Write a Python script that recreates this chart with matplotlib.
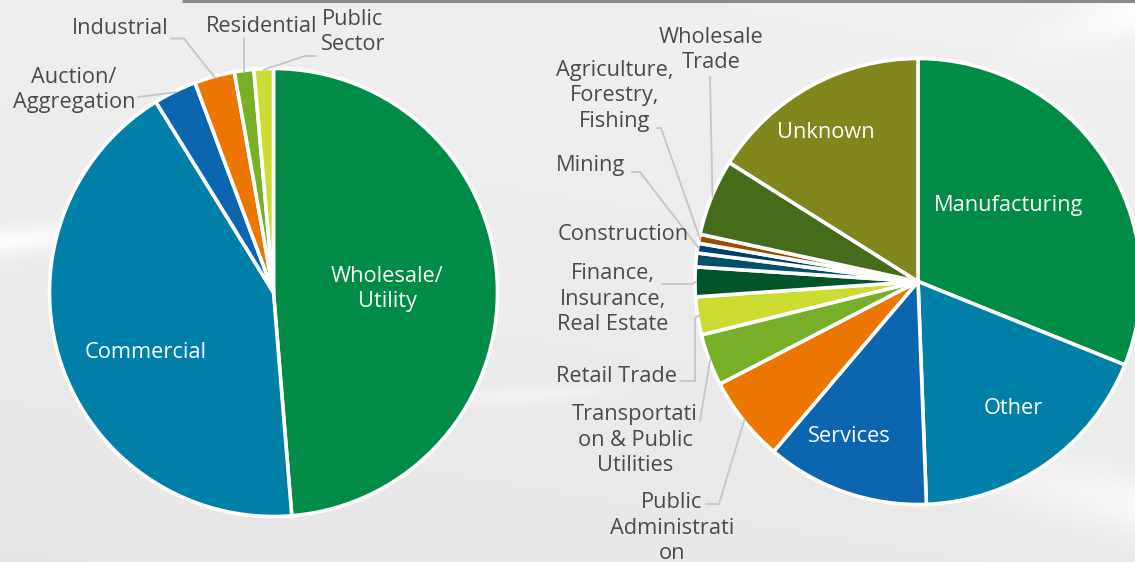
import numpy as np
import matplotlib
matplotlib.use("Agg")
import matplotlib.pyplot as plt

W, H = 1135, 562

# ---- customer type (left pie) ----
cust_labels = ["Wholesale/\nUtility", "Commercial", "Auction/\nAggregation",
               "Industrial", "Residential", "Public\nSector"]
cust_share = [48.7, 42.5, 3.1, 2.9, 1.4, 1.4]
cust_colors = ["#008c46", "#007fa8", "#0b65af", "#ec7600", "#77af28", "#cddc32"]

# ---- buyer industry (right pie) ----
ind_labels = ["Manufacturing", "Other", "Services", "Public\nAdministrati\non",
              "Transportati\non & Public\nUtilities", "Retail Trade",
              "Finance,\nInsurance,\nReal Estate", "Construction", "Mining",
              "Agriculture,\nForestry,\nFishing", "Wholesale\nTrade", "Unknown"]
ind_share = [31.1, 18.3, 11.8, 6.2, 3.75, 2.75, 2.15, 1.0, 0.7, 0.65, 5.55, 16.05]
ind_colors = ["#008c46", "#007fa8", "#0b65af", "#ec7600", "#77af28", "#cddc32",
              "#00552b", "#005069", "#003d6f", "#9a4b00", "#466b1a", "#80861c"]

TEXT = "#4a4a4a"
LEAD = "#c6c6c6"
FONT = "Open Sans"


def px(x, y):
    """Pixel position (origin top-left) -> data coordinates."""
    return x, H - y


fig = plt.figure(figsize=(W / 100, H / 100), dpi=100)
ax = fig.add_axes([0, 0, 1, 1])

# soft grey backdrop with a few white light streaks
yy, xx = np.mgrid[0:H, 0:W].astype(float)
bg = 0.905 + 0.030 * (1 - yy / H) + 0.01 * (xx / W)


def streak(x0, y0, slope, width, strength, fade_x=None):
    d = np.abs((yy - y0) - slope * (xx - x0)) / np.sqrt(1 + slope ** 2)
    s = strength * np.exp(-(d / width) ** 2)
    if fade_x is not None:
        s *= np.clip(1 - np.abs(xx - x0) / fade_x, 0, 1)
    return s


bg += streak(0, 242, -0.12, 14, 0.07, fade_x=260)
bg += streak(520, 395, -0.05, 8, 0.04, fade_x=120)
bg += streak(1135, 505, 0.25, 30, 0.06, fade_x=260)
bg += streak(1135, 10, -0.3, 25, 0.05, fade_x=140)
bg = np.clip(bg, 0, 1)
ax.imshow(np.dstack([bg, bg, bg]), extent=(0, W, 0, H), origin="upper",
          zorder=0, aspect="auto", interpolation="bilinear")

# thin rule along the top edge
ax.plot([182, W], [H - 1.2, H - 1.2], color="#8a8a8a", lw=2.2,
        solid_capstyle="butt", zorder=1)

wedge_style = dict(edgecolor="white", linewidth=2.6)

L_CENTER, L_R = px(273.5, 292.5), 224
R_CENTER, R_R = px(918, 281.5), 223

lw, _ = ax.pie(cust_share, colors=cust_colors, startangle=90, counterclock=False,
               center=L_CENTER, radius=L_R, wedgeprops=wedge_style, frame=True)
rw, _ = ax.pie(ind_share, colors=ind_colors, startangle=90, counterclock=False,
               center=R_CENTER, radius=R_R, wedgeprops=wedge_style, frame=True)
for w in list(lw) + list(rw):
    w.set_zorder(2)


def rim(wedge, center, r):
    a = np.deg2rad((wedge.theta1 + wedge.theta2) / 2)
    return center[0] + r * np.cos(a), center[1] + r * np.sin(a)


txt = dict(family=FONT, fontweight="normal", fontsize=15.7, linespacing=1.3,
           ha="center", va="center", zorder=4)

# labels placed inside the larger slices
inside = {
    "Wholesale/\nUtility": (387, 289),
    "Commercial": (146, 352),
    "Manufacturing": (1009, 206),
    "Other": (1013, 408),
    "Services": (849, 437),
    "Unknown": (826, 132),
}
for name, pos in inside.items():
    ax.text(*px(*pos), name, color="white", **txt)

# outside labels with leader lines running to the middle of each slice's rim
left_out = {
    2: ((74, 90), [(138, 97)]),
    3: ((120, 29), [(171, 38.5), (184, 38.5)]),
    4: ((262, 26), [(244, 38)]),
    5: ((353, 32), [(316, 56), (305, 56)]),
}
right_out = {
    3: ((672, 528), [(706, 504), (719, 504)]),
    4: ((635, 440), [(700, 421)]),
    5: ((617, 376), [(680, 381), (695, 381), (695, 318)]),
    6: ((613, 299), [(662, 284), (692, 284)]),
    7: ((623, 234), None),
    8: ((591, 165), [(632, 172), (640, 172)]),
    9: ((615, 96), [(657, 128), (661, 128)]),
    10: ((711, 50), [(710, 77)]),
}

for wedges, labels, center, r, table in (
        (lw, cust_labels, L_CENTER, L_R, left_out),
        (rw, ind_labels, R_CENTER, R_R, right_out)):
    for i, (pos, path) in table.items():
        ax.text(*px(*pos), labels[i], color=TEXT, **txt)
        if path:
            pts = [px(*p) for p in path] + [rim(wedges[i], center, r - 1)]
            xs, ys = zip(*pts)
            ax.plot(xs, ys, color=LEAD, lw=1.3, zorder=3,
                    solid_joinstyle="miter")

ax.set_xlim(0, W)
ax.set_ylim(0, H)
ax.set_aspect("equal")
ax.axis("off")
fig.savefig("out.png", dpi=100)
